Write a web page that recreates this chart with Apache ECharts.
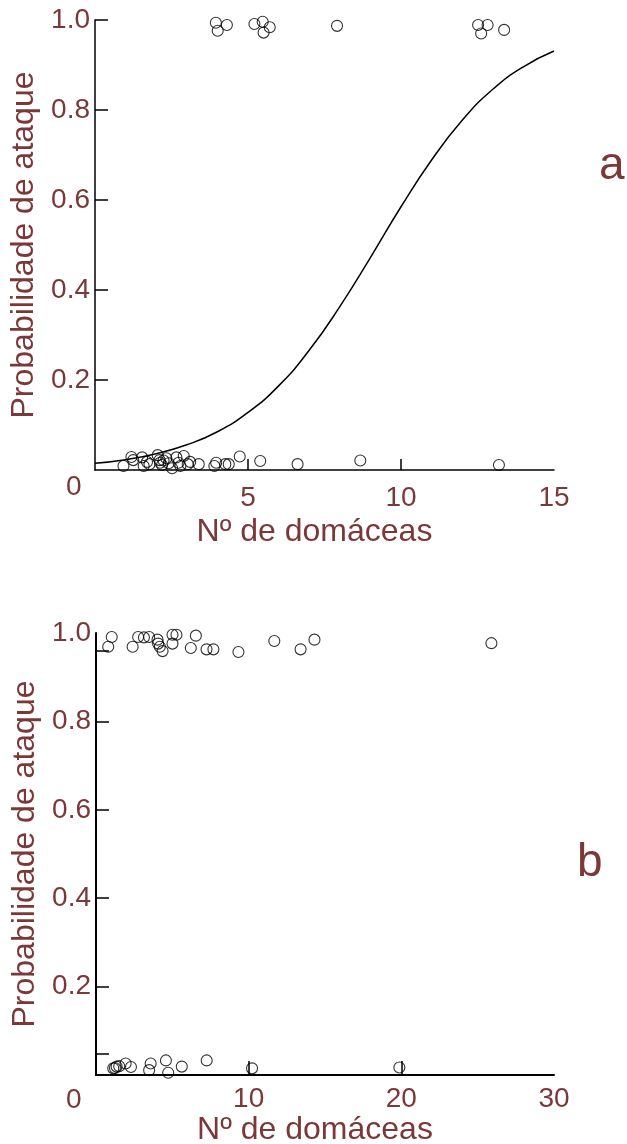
<!DOCTYPE html>
<html>
<head>
<meta charset="utf-8">
<script src="https://cdn.jsdelivr.net/npm/echarts@6/dist/echarts.min.js"></script>
<style>
  html, body { margin: 0; padding: 0; background: #fff; }
  #chart { width: 627px; height: 1144px; }
</style>
</head>
<body>
<div id="chart"></div>
<script>
// Panel a: observed attacks (0/1, jittered) against number of domatia
const domA = [3.95, 4.01, 4.31, 5.21, 5.48, 5.71, 5.51, 7.91, 12.52, 12.83, 12.62, 13.37,
  0.93, 1.19, 1.25, 1.54, 1.59, 1.70, 1.78, 2.05, 2.11, 2.13, 2.19, 2.24, 2.33, 2.41, 2.52,
  2.66, 2.73, 2.79, 2.90, 3.03, 3.11, 3.39, 3.90, 3.96, 4.26, 4.37, 4.73, 5.40, 6.62, 8.67, 13.20];
const probA = [0.994, 0.976, 0.989, 0.991, 0.996, 0.984, 0.972, 0.987, 0.989, 0.989, 0.970, 0.978,
  0.009, 0.029, 0.022, 0.028, 0.009, 0.018, 0.013, 0.033, 0.022, 0.016, 0.011, 0.021, 0.026, 0.015, 0.004,
  0.028, 0.016, 0.009, 0.031, 0.013, 0.018, 0.013, 0.009, 0.016, 0.013, 0.013, 0.030, 0.020, 0.013, 0.021, 0.011];

// Panel a: fitted probability curve
const curveX = [0, 1, 2, 3, 4, 5, 6, 7, 8, 9, 10, 11, 12, 13, 14, 15];
const curveP = [0.015, 0.023, 0.036, 0.056, 0.085, 0.128, 0.187, 0.266, 0.363, 0.472, 0.585, 0.689, 0.777, 0.846, 0.896, 0.931];

// Panel b: observed attacks against number of domatia
const domB = [1.03, 0.80, 2.40, 2.76, 3.14, 3.48, 4.03, 4.07, 4.18, 4.36, 5.01, 5.27, 5.01, 6.21, 6.54,
  7.24, 7.69, 9.33, 11.68, 13.40, 14.31, 25.90,
  1.13, 1.24, 1.35, 1.52, 1.94, 2.29, 3.48, 3.58, 4.58, 4.73, 5.62, 7.25, 10.22, 19.87];
const probB = [0.991, 0.969, 0.969, 0.991, 0.990, 0.991, 0.985, 0.976, 0.969, 0.959, 0.996, 0.996, 0.976, 0.966, 0.994,
  0.963, 0.963, 0.957, 0.982, 0.963, 0.985, 0.977,
  0.015, 0.016, 0.019, 0.020, 0.026, 0.018, 0.011, 0.026, 0.033, 0.005, 0.019, 0.033, 0.015, 0.017];

// Axis ticks and labels
const yLabels = [0.2, 0.4, 0.6, 0.8, 1.0];
const yTicksA = [0.2, 0.4, 0.6, 0.8, 1.0];
const yTicksB = [0.047, 0.2, 0.4, 0.6, 0.8, 0.96];
const xLabelsA = [5, 10, 15];
const xTicksA = [5, 10];
const xLabelsB = [10, 20, 30];
const xTicksB = [10, 20];

const ink = '#7b3838';
const font = '"Liberation Sans", Arial, sans-serif';
const xName = 'Nº de domáceas';
const yName = 'Probabilidade de ataque';

const zip = (xs, ys) => xs.map((x, i) => [x, ys[i]]);

function xAxisCfg(idx, max, labels, ticks, gap, margin, tickLen, lw) {
  return {
    type: 'value', gridIndex: idx, min: 0, max: max,
    name: xName, nameLocation: 'middle', nameGap: gap,
    nameTextStyle: { color: ink, fontSize: 32, fontFamily: font, padding: [0, 20, 0, 0] },
    axisLine: { show: true, onZero: false, lineStyle: { color: '#000', width: lw } },
    axisTick: { show: true, inside: true, length: tickLen, customValues: ticks, lineStyle: { color: '#000', width: 1.5 } },
    axisLabel: { color: ink, fontSize: 28, fontFamily: font, margin: margin, customValues: labels },
    splitLine: { show: false }
  };
}

function yAxisCfg(idx, ticks, lw) {
  return {
    type: 'value', gridIndex: idx, min: 0, max: 1,
    name: yName, nameLocation: 'middle', nameGap: 55, nameRotate: 90,
    nameTextStyle: { color: ink, fontSize: 32, fontFamily: font },
    axisLine: { show: true, onZero: false, lineStyle: { color: '#000', width: lw } },
    axisTick: { show: true, inside: true, length: 13, customValues: ticks, lineStyle: { color: '#000', width: 1.5 } },
    axisLabel: { color: ink, fontSize: 28, fontFamily: font, margin: 5, customValues: yLabels,
      formatter: v => v.toFixed(1) },
    splitLine: { show: false }
  };
}

const pointStyle = {
  type: 'scatter', symbol: 'circle', symbolSize: 11,
  itemStyle: { color: 'rgba(255,255,255,0)', borderColor: '#000', borderWidth: 1.1 },
  emphasis: { disabled: true }, z: 3
};

const chart = echarts.init(document.getElementById('chart'), null, { renderer: 'canvas' });
chart.setOption({
  animation: false,
  backgroundColor: '#fff',
  textStyle: { fontFamily: font },
  grid: [
    { left: 95, top: 20, width: 459, height: 450, outerBoundsMode: 'none', containLabel: false },
    { left: 96, top: 633, width: 458, height: 442, outerBoundsMode: 'none', containLabel: false }
  ],
  xAxis: [
    xAxisCfg(0, 15, xLabelsA, xTicksA, 46, 14, 11, 1.5),
    xAxisCfg(1, 30, xLabelsB, xTicksB, 38, 10, 14, 2)
  ],
  yAxis: [
    yAxisCfg(0, yTicksA, 1.5),
    yAxisCfg(1, yTicksB, 2)
  ],
  series: [
    {
      type: 'line', xAxisIndex: 0, yAxisIndex: 0, data: zip(curveX, curveP),
      smooth: true, showSymbol: false, lineStyle: { color: '#000', width: 1.5 }, z: 2
    },
    Object.assign({ xAxisIndex: 0, yAxisIndex: 0, data: zip(domA, probA) }, pointStyle),
    Object.assign({ xAxisIndex: 1, yAxisIndex: 1, data: zip(domB, probB) }, pointStyle)
  ],
  graphic: [
    { type: 'text', left: 66, top: 473, style: { text: '0', fill: ink, fontSize: 28, fontFamily: font } },
    { type: 'text', left: 66, top: 1086, style: { text: '0', fill: ink, fontSize: 28, fontFamily: font } },
    { type: 'text', left: 599, top: 143, style: { text: 'a', fill: ink, fontSize: 46, fontFamily: font } },
    { type: 'text', left: 577, top: 840, style: { text: 'b', fill: ink, fontSize: 46, fontFamily: font } }
  ]
});
</script>
</body>
</html>
